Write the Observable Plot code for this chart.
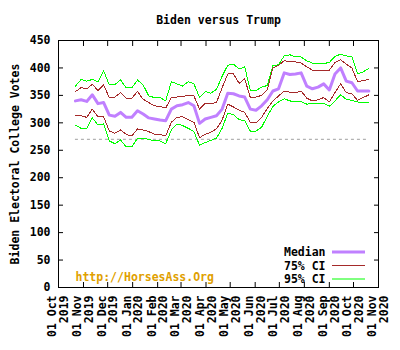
<!DOCTYPE html>
<html><head><meta charset="utf-8">
<script src="https://cdn.jsdelivr.net/npm/d3@7"></script>
<script src="https://cdn.jsdelivr.net/npm/@observablehq/plot@0.6"></script>
<style>
body{margin:0;background:#fff}
#chart{width:400px;height:350px}
</style>
</head><body><div id="chart"></div>
<script>
const title = "Biden versus Trump";
const yLabel = "Biden Electoral College Votes";
const sourceText = "http://HorsesAss.Org";
const weeks = ["2019-10-22","2019-10-29","2019-11-05","2019-11-12","2019-11-19","2019-11-26","2019-12-03","2019-12-10","2019-12-17","2019-12-24","2019-12-31","2020-01-07","2020-01-14","2020-01-21","2020-01-28","2020-02-04","2020-02-11","2020-02-18","2020-02-25","2020-03-03","2020-03-10","2020-03-17","2020-03-24","2020-03-31","2020-04-07","2020-04-14","2020-04-21","2020-04-28","2020-05-05","2020-05-12","2020-05-19","2020-05-26","2020-06-02","2020-06-09","2020-06-16","2020-06-23","2020-06-30","2020-07-07","2020-07-14","2020-07-21","2020-07-28","2020-08-04","2020-08-11","2020-08-18","2020-08-25","2020-09-01","2020-09-08","2020-09-15","2020-09-22","2020-09-29","2020-10-06","2020-10-13","2020-10-20"];
const median = [340,342,339,351,335,337,314,312,319,310,310,322,316,309,307,305,304,325,331,333,337,331,299,307,310,313,325,354,353,349,347,325,323,331,342,358,362,391,388,389,391,367,362,365,371,360,389,400,376,373,358,358,358];
const ci75Upper = [357,364,362,370,359,369,346,347,355,345,345,357,343,337,331,330,327,346,347,348,350,349,325,336,335,337,364,389,389,372,380,346,347,350,360,400,405,413,412,411,409,402,396,396,396,396,410,415,407,400,375,377,379];
const ci75Lower = [314,313,310,325,311,311,285,281,287,279,276,289,287,284,279,279,276,301,310,311,306,301,273,279,283,289,305,334,329,323,319,301,300,310,326,340,349,358,356,355,358,345,340,342,346,338,355,371,355,353,341,346,351];
const ci95Upper = [367,379,376,379,375,395,369,370,378,364,364,378,369,349,346,346,340,375,371,367,375,371,346,357,354,361,385,405,407,398,402,359,359,365,368,404,406,422,424,420,420,413,409,408,408,410,421,425,422,420,389,393,399];
const ci95Lower = [296,290,290,309,296,298,267,262,269,256,256,272,272,270,267,267,262,287,298,295,290,284,259,264,268,272,290,318,315,306,304,285,285,292,312,330,338,344,340,338,339,334,335,335,336,330,340,351,343,341,338,337,337];
const monthTicks = ["2019-10-01","2019-11-01","2019-12-01","2020-01-01","2020-02-01","2020-03-01","2020-04-01","2020-05-01","2020-06-01","2020-07-01","2020-08-01","2020-09-01","2020-10-01","2020-11-01"];
const yTicks = [0,50,100,150,200,250,300,350,400,450];
const threshold = 270;
const legendLabels = ["Median","75% CI","95% CI"];
const legendColors = ["#c080ff","#a52a2a","#00ff00"];
const legendWidths = [3,1,1];

const rows = weeks.map((w,i)=>({date:new Date(w), median:median[i], u75:ci75Upper[i], l75:ci75Lower[i], u95:ci95Upper[i], l95:ci95Lower[i]}));
const tickDates = monthTicks.map(d=>new Date(d));
const fmt = d3.utcFormat("%d %b\n%Y");

const font = "'DejaVu Sans Mono', monospace";
const lineOpts = {x:"date", strokeWidth:1, shapeRendering:"crispEdges"};

const legendMarks = legendLabels.map((lab,i)=>Plot.text([lab], {frameAnchor:"bottom-right", textAnchor:"end", lineAnchor:"middle", dx:-53, dy:-35 + i*13.5}));

const chart = Plot.plot({
  width:400, height:350,
  marginLeft:58, marginRight:22, marginTop:40, marginBottom:63,
  style:{fontFamily:font, fontSize:"11.5px", fontWeight:"bold", background:"white", color:"black"},
  x:{type:"utc", domain:[tickDates[0], tickDates[tickDates.length-1]]},
  y:{domain:[0,450]},
  marks:[
    Plot.ruleY([threshold], {x1:rows[0].date, x2:rows[rows.length-1].date, stroke:"#a0a0a0", strokeDasharray:"3,3"}),
    Plot.lineY(rows, {...lineOpts, y:"u95", stroke:legendColors[2]}),
    Plot.lineY(rows, {...lineOpts, y:"l95", stroke:legendColors[2]}),
    Plot.lineY(rows, {...lineOpts, y:"u75", stroke:legendColors[1]}),
    Plot.lineY(rows, {...lineOpts, y:"l75", stroke:legendColors[1]}),
    Plot.lineY(rows, {x:"date", y:"median", stroke:legendColors[0], strokeWidth:3}),
    Plot.frame({stroke:"black"}),
    Plot.axisY(yTicks, {anchor:"left", tickSize:0, tickPadding:8, label:null}),
    Plot.axisY(yTicks, {anchor:"left", tickSize:-5, tickFormat:()=>"", label:null}),
    Plot.axisY(yTicks, {anchor:"right", tickSize:-5, tickFormat:()=>"", label:null}),
    Plot.axisX(tickDates, {anchor:"bottom", tickSize:-5, tickFormat:()=>"", label:null}),
    Plot.axisX(tickDates, {anchor:"top", tickSize:-5, tickFormat:()=>"", label:null}),
    Plot.text(tickDates, {x:d=>d, text:d=>fmt(d), frameAnchor:"bottom", rotate:-90, textAnchor:"end", lineAnchor:"middle", lineHeight:1.02, dy:8}),
    Plot.text([yLabel], {frameAnchor:"left", rotate:-90, textAnchor:"middle", lineAnchor:"middle", dx:-43}),
    Plot.text([title], {frameAnchor:"top", lineAnchor:"middle", dy:-20}),
    Plot.text([sourceText], {frameAnchor:"bottom-left", textAnchor:"start", lineAnchor:"middle", dx:17, dy:-10, fill:"#e0a000"}),
    ...legendMarks
  ]
});
document.getElementById("chart").appendChild(chart);

// legend sample lines
const svg = d3.select(chart);
legendLabels.forEach((lab,i)=>{
  svg.append("line")
    .attr("x1",332).attr("x2",365)
    .attr("y1",252 + i*13.5).attr("y2",252 + i*13.5)
    .attr("stroke",legendColors[i]).attr("stroke-width",legendWidths[i]);
});
</script>
</body></html>
